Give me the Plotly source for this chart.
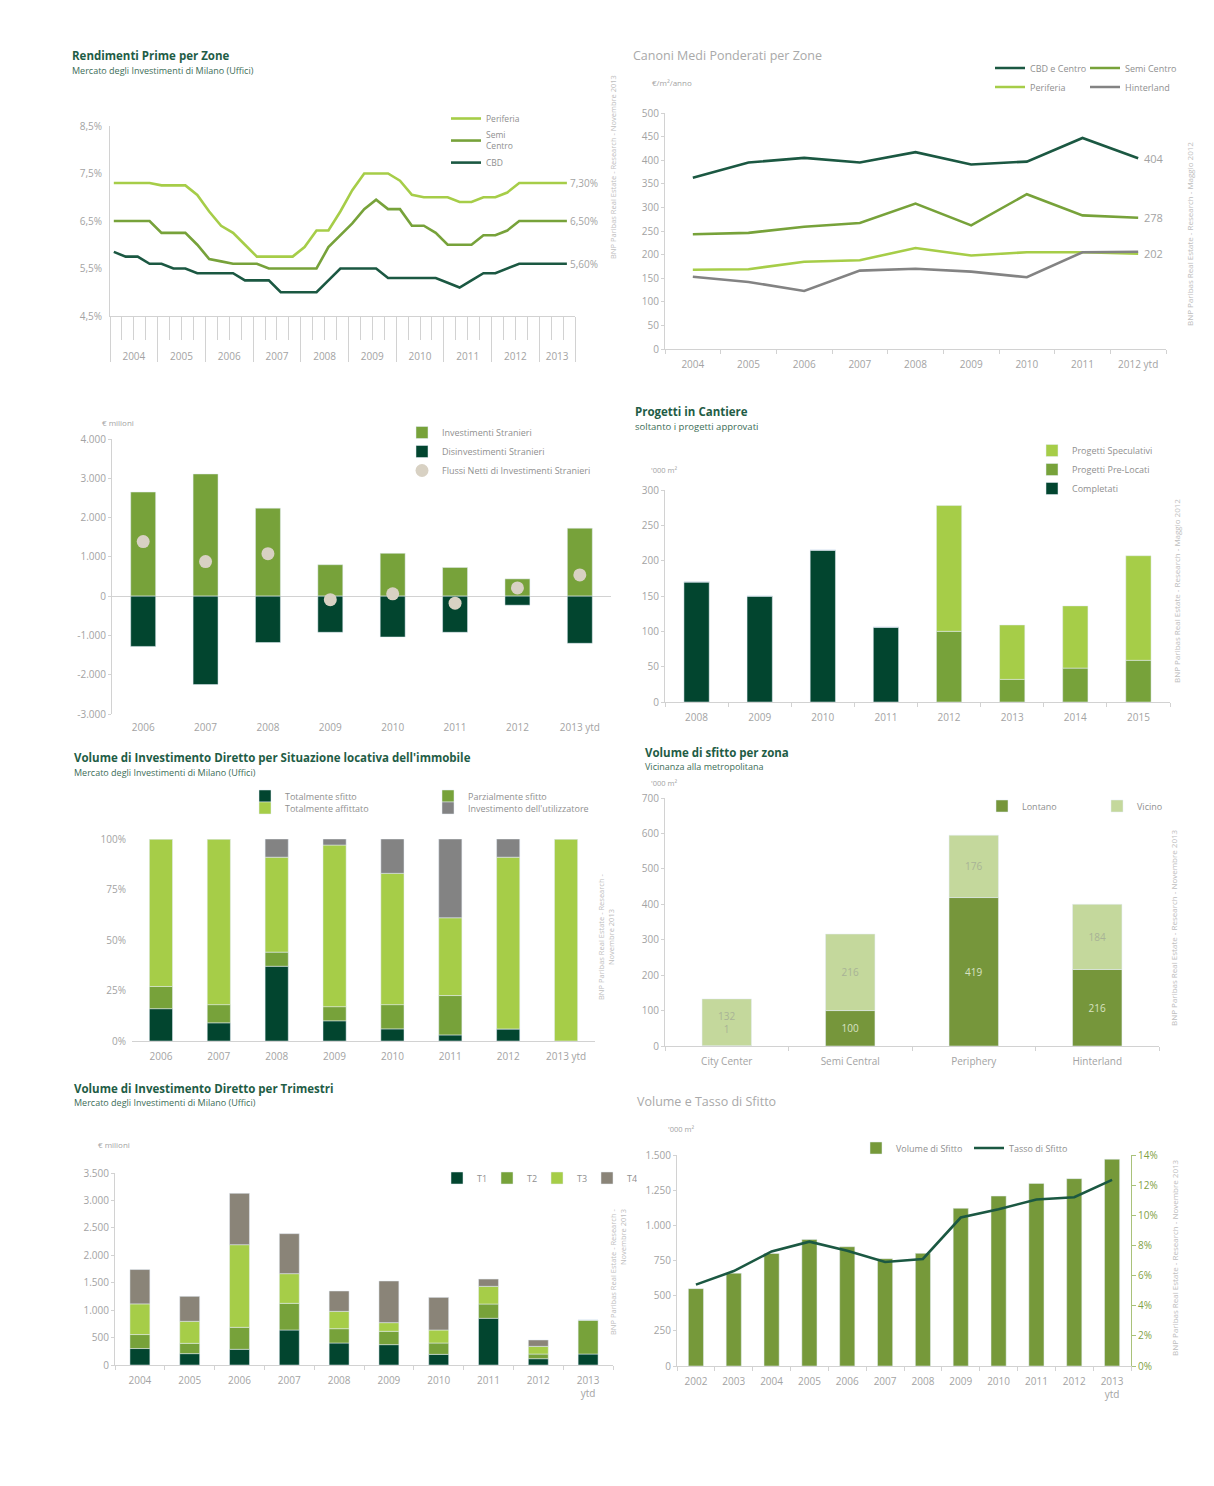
import plotly.graph_objects as go

W, H = 1214, 1486
OFF = 8  # default page margin of the browser
FW, FH = W - 2 * OFF, H - 2 * OFF

# ---------------- DATA ----------------
# Panel 1 - Rendimenti Prime per Zone (quarterly, 2004 T1 - 2013 T3)
p1_years = [2004, 2005, 2006, 2007, 2008, 2009, 2010, 2011, 2012, 2013]
p1_periferia = [7.3, 7.3, 7.3, 7.3, 7.25, 7.25, 7.25, 7.05, 6.7, 6.4, 6.25, 6.0, 5.75, 5.75, 5.75, 5.75,
                5.95, 6.3, 6.3, 6.7, 7.15, 7.5, 7.5, 7.5, 7.35, 7.05, 7.0, 7.0, 7.0, 6.9, 6.9, 7.0, 7.0,
                7.1, 7.3, 7.3, 7.3, 7.3, 7.3]
p1_semi = [6.5, 6.5, 6.5, 6.5, 6.25, 6.25, 6.25, 6.0, 5.7, 5.65, 5.6, 5.6, 5.6, 5.5, 5.5, 5.5, 5.5, 5.5,
           5.95, 6.2, 6.45, 6.75, 6.95, 6.75, 6.75, 6.4, 6.4, 6.25, 6.0, 6.0, 6.0, 6.2, 6.2, 6.3, 6.5,
           6.5, 6.5, 6.5, 6.5]
p1_cbd = [5.85, 5.75, 5.75, 5.6, 5.6, 5.5, 5.5, 5.4, 5.4, 5.4, 5.4, 5.25, 5.25, 5.25, 5.0, 5.0, 5.0, 5.0,
          5.25, 5.5, 5.5, 5.5, 5.5, 5.3, 5.3, 5.3, 5.3, 5.3, 5.2, 5.1, 5.25, 5.4, 5.4, 5.5, 5.6, 5.6,
          5.6, 5.6, 5.6]
p1_yticks = [4.5, 5.5, 6.5, 7.5, 8.5]

# Panel 2 - Canoni Medi Ponderati per Zone
p2_years = ["2004", "2005", "2006", "2007", "2008", "2009", "2010", "2011", "2012 ytd"]
p2_cbd = [363, 395, 405, 395, 417, 391, 397, 447, 404]
p2_semi = [243, 246, 259, 267, 308, 262, 328, 283, 278]
p2_periferia = [168, 169, 185, 188, 214, 198, 205, 205, 202]
p2_hinterland = [153, 142, 123, 166, 170, 164, 152, 205, 206]

# Panel 3 - Investimenti stranieri
p3_years = ["2006", "2007", "2008", "2009", "2010", "2011", "2012", "2013 ytd"]
p3_invest = [2650, 3110, 2240, 800, 1090, 730, 440, 1730]
p3_disinv = [-1280, -2250, -1180, -920, -1040, -920, -230, -1200]
p3_netti = [1390, 880, 1080, -90, 60, -180, 210, 540]
p3_yticks = [4000, 3000, 2000, 1000, 0, -1000, -2000, -3000]

# Panel 4 - Progetti in Cantiere
p4_years = ["2008", "2009", "2010", "2011", "2012", "2013", "2014", "2015"]
p4_completati = [170, 150, 215, 106, 0, 0, 0, 0]
p4_prelocati = [0, 0, 0, 0, 100, 32, 48, 59]
p4_speculativi = [0, 0, 0, 0, 178, 77, 88, 148]

# Panel 5 - Situazione locativa (%)
p5_years = ["2006", "2007", "2008", "2009", "2010", "2011", "2012", "2013 ytd"]
p5_tot_sfitto = [16, 9, 37, 10, 6, 3, 6, 0]
p5_parz_sfitto = [11, 9, 7, 7, 12, 19.5, 0, 0]
p5_affittato = [73, 82, 47, 80, 65, 38.5, 85, 100]
p5_utilizzatore = [0, 0, 9, 3, 17, 39, 9, 0]
p5_yticks = [0, 25, 50, 75, 100]

# Panel 6 - Volume di sfitto per zona
p6_zones = ["City Center", "Semi Central", "Periphery", "Hinterland"]
p6_lontano = [1, 100, 419, 216]
p6_vicino = [132, 216, 176, 184]

# Panel 7 - Volume per trimestri
p7_years = ["2004", "2005", "2006", "2007", "2008", "2009", "2010", "2011", "2012", "2013<br>ytd"]
p7_t1 = [300, 207, 286, 638, 401, 371, 194, 851, 115, 200]
p7_t2 = [255, 188, 401, 486, 261, 243, 207, 261, 85, 620]
p7_t3 = [559, 401, 1506, 541, 316, 158, 237, 322, 140, 0]
p7_t4 = [626, 456, 936, 729, 371, 759, 595, 133, 116, 0]

# Panel 8 - Volume e Tasso di Sfitto
p8_years = ["2002", "2003", "2004", "2005", "2006", "2007", "2008", "2009", "2010", "2011", "2012",
            "2013<br>ytd"]
p8_volume = [550, 660, 800, 900, 848, 763, 801, 1121, 1208, 1298, 1332, 1470]
p8_tasso = [5.4, 6.3, 7.6, 8.25, 7.65, 6.9, 7.1, 9.85, 10.4, 11.05, 11.2, 12.35]

# ---------------- STYLE ----------------
FONT = "Open Sans"
DK = "#02452f"
DKL = "#1b5842"
MG = "#77a23a"
LG = "#a6cd48"
GR = "#838383"
GRB = "#8a8478"
DOT = "#d8d1c3"
TICK = "#a3a3a3"
AX = "#d2d2d2"
TITLE = "#1f5d46"
SUB = "#3d6d57"
SRC = "#bdbdbd"
CLEAR = "rgba(0,0,0,0)"


def px(x):
    return (x - OFF) / FW


def py(y):
    return 1 - (y - OFF) / FH


def xd(a, b):
    return [px(a), px(b)]


def yd(top, bot):
    return [py(bot), py(top)]


tickfont = dict(family=FONT, size=10, color=TICK)


def cat_x(dom, anchor, n, line=True, ticks="outside"):
    return dict(domain=xd(*dom), anchor=anchor, type="category", range=[-0.5, n - 0.5], showline=line,
                linecolor=AX, ticks=ticks, tickson="boundaries", ticklen=4, tickcolor=AX,
                tickfont=tickfont, ticklabelstandoff=6, showgrid=False, zeroline=False, fixedrange=True,
                automargin=False)


def val_y(dom, anchor, rng, line=True, **kw):
    d = dict(domain=yd(*dom), anchor=anchor, range=rng, showline=line, linecolor=AX,
             ticks="outside", ticklen=3, tickcolor=AX if line else CLEAR, tickfont=tickfont,
             showgrid=False, zeroline=False, fixedrange=True, automargin=False)
    d.update(kw)
    return d


fig = go.Figure()

# ---------------- PANEL 1 ----------------
p1_x = [p1_years[0] + 0.08 + 0.25 * i for i in range(len(p1_periferia))]
for name, ys, col in [("Periferia", p1_periferia, LG), ("Semi<br>Centro", p1_semi, MG), ("CBD", p1_cbd, DKL)]:
    fig.add_trace(go.Scatter(x=p1_x, y=ys, mode="lines", name=name, line=dict(color=col, width=2.6),
                             xaxis="x", yaxis="y", legend="legend", hoverinfo="skip"))
p1_end = p1_years[-1] + 0.75
p1_mid = [y + 0.5 for y in p1_years[:-1]] + [p1_years[-1] + 0.375]
fig.add_trace(go.Scatter(x=p1_mid, y=[None] * len(p1_mid), mode="lines", showlegend=False,
                         xaxis="x9", yaxis="y", hoverinfo="skip"))

# ---------------- PANEL 2 ----------------
for name, ys, col, lg in [("CBD e Centro", p2_cbd, DKL, "legend2"), ("Semi Centro", p2_semi, MG, "legend2"),
                          ("Periferia", p2_periferia, LG, "legend3"), ("Hinterland", p2_hinterland, GR, "legend3")]:
    fig.add_trace(go.Scatter(x=p2_years, y=ys, mode="lines", name=name, line=dict(color=col, width=2.6),
                             xaxis="x2", yaxis="y2", legend=lg, hoverinfo="skip"))

# ---------------- PANEL 3 ----------------
fig.add_trace(go.Bar(x=p3_years, y=p3_invest, name="Investimenti Stranieri", marker_color=MG,
                     xaxis="x3", yaxis="y3", legend="legend4"))
fig.add_trace(go.Bar(x=p3_years, y=p3_disinv, name="Disinvestimenti Stranieri", marker_color=DK,
                     xaxis="x3", yaxis="y3", legend="legend4"))
fig.add_trace(go.Scatter(x=p3_years, y=p3_netti, mode="markers", name="Flussi Netti di Investimenti Stranieri",
                         marker=dict(color=DOT, size=13), xaxis="x3", yaxis="y3", legend="legend4"))

# ---------------- PANEL 4 ----------------
for name, ys, col in [("Completati", p4_completati, DK), ("Progetti Pre-Locati", p4_prelocati, MG),
                      ("Progetti Speculativi", p4_speculativi, LG)]:
    fig.add_trace(go.Bar(x=p4_years, y=ys, name=name, marker_color=col, xaxis="x4", yaxis="y4",
                         legend="legend5"))

# ---------------- PANEL 5 ----------------
for name, ys, col, lg in [("Totalmente sfitto", p5_tot_sfitto, DK, "legend6"),
                          ("Parzialmente sfitto", p5_parz_sfitto, MG, "legend6"),
                          ("Totalmente affittato", p5_affittato, LG, "legend7"),
                          ("Investimento dell'utilizzatore", p5_utilizzatore, GR, "legend7")]:
    fig.add_trace(go.Bar(x=p5_years, y=ys, name=name, marker_color=col, xaxis="x5", yaxis="y5",
                         legend=lg))

# ---------------- PANEL 6 ----------------
p6_vicino_txt = [f"{v}<br>{l}" if l < 10 else f"{v}" for v, l in zip(p6_vicino, p6_lontano)]
p6_lontano_txt = [f"{l}" if l >= 10 else "" for l in p6_lontano]
fig.add_trace(go.Bar(x=p6_zones, y=p6_lontano, name="Lontano", marker_color="#76963b", text=p6_lontano_txt,
                     textposition="inside", insidetextanchor="middle",
                     textfont=dict(family=FONT, size=10, color="#d9e3c4"),
                     xaxis="x6", yaxis="y6", legend="legend8"))
fig.add_trace(go.Bar(x=p6_zones, y=p6_vicino, name="Vicino", marker_color="#c4d89c", text=p6_vicino_txt,
                     textposition="inside", insidetextanchor="middle",
                     textfont=dict(family=FONT, size=10, color="#a8b396"),
                     xaxis="x6", yaxis="y6", legend="legend8"))

# ---------------- PANEL 7 ----------------
for name, ys, col in [("T1", p7_t1, DK), ("T2", p7_t2, MG), ("T3", p7_t3, LG), ("T4", p7_t4, GRB)]:
    fig.add_trace(go.Bar(x=p7_years, y=ys, name=name, marker_color=col, xaxis="x7", yaxis="y7",
                         legend="legend9"))

# ---------------- PANEL 8 ----------------
fig.add_trace(go.Bar(x=p8_years, y=p8_volume, name="Volume di Sfitto", marker_color="#76993a",
                     xaxis="x8", yaxis="y8", legend="legend10"))
fig.add_trace(go.Scatter(x=p8_years, y=p8_tasso, mode="lines", name="Tasso di Sfitto",
                         line=dict(color=DKL, width=2.6), xaxis="x8", yaxis="y10", legend="legend10"))

# ---------------- AXES ----------------
lay = dict(
    xaxis=dict(domain=xd(110, 575), anchor="y", range=[p1_years[0], p1_end], tickmode="array",
               tickvals=p1_years + [p1_end], showticklabels=False, ticks="outside", ticklen=45,
               tickcolor=AX, showline=True, linecolor=AX, showgrid=False, zeroline=False,
               minor=dict(ticks="outside", ticklen=23, tick0=p1_years[0], dtick=0.25, tickcolor=AX),
               fixedrange=True, automargin=False),
    xaxis9=dict(overlaying="x", anchor="y", range=[p1_years[0], p1_end], tickmode="array",
                tickvals=p1_mid, ticktext=[str(y) for y in p1_years], ticks="outside", ticklen=31,
                tickcolor=CLEAR, showline=False, showgrid=False, zeroline=False,
                tickfont=tickfont, fixedrange=True, automargin=False),
    yaxis=val_y((126, 316), "x", [4.5, 8.5], tickmode="array", tickvals=p1_yticks,
                ticktext=[f"{v:.1f}%".replace(".", ",") for v in p1_yticks], tickcolor=CLEAR, ticklen=5),
    xaxis2=cat_x((665, 1166), "y2", len(p2_years)),
    yaxis2=val_y((113, 349), "x2", [0, 500], dtick=50),
    xaxis3=cat_x((112, 611), "y3", len(p3_years), line=False, ticks=""),
    yaxis3=val_y((439, 714), "x3", [-3000, 4000], tickmode="array", tickvals=p3_yticks,
                 ticktext=[f"{v:,}".replace(",", ".") for v in p3_yticks], zeroline=True,
                 zerolinecolor=AX, zerolinewidth=1),
    xaxis4=cat_x((665, 1170), "y4", len(p4_years)),
    yaxis4=val_y((490, 702), "x4", [0, 300], dtick=50),
    xaxis5=cat_x((132, 595), "y5", len(p5_years), ticks=""),
    yaxis5=val_y((839, 1041), "x5", [0, 100], line=False, tickmode="array", tickvals=p5_yticks,
                 ticktext=[f"{v}%" for v in p5_yticks]),
    xaxis6=cat_x((665, 1159), "y6", len(p6_zones)),
    yaxis6=val_y((798, 1046), "x6", [0, 700], dtick=100),
    xaxis7=cat_x((115, 613), "y7", len(p7_years)),
    yaxis7=val_y((1173, 1365), "x7", [0, 3500], dtick=500, tickformat=",d"),
    xaxis8=cat_x((677, 1131), "y8", len(p8_years)),
    yaxis8=val_y((1155, 1366), "x8", [0, 1500], dtick=250, tickformat=",d"),
    yaxis10=dict(overlaying="y8", anchor="x8", side="right", range=[0, 14], dtick=2, ticksuffix="%",
                 showline=True, linecolor="#a9c27a", ticks="outside", ticklen=4, tickcolor="#a9c27a",
                 tickfont=dict(family=FONT, size=10, color="#7f9f45"), showgrid=False, zeroline=False,
                 fixedrange=True, automargin=False),
)

# ---------------- LEGENDS ----------------
lf = dict(family=FONT, size=9, color="#8f8f8f")


def legend(x, y, h=False, yanchor="top", **kw):
    d = dict(x=px(x), y=py(y), xanchor="left", yanchor=yanchor, bgcolor=CLEAR,
             font=lf, orientation="h" if h else "v", itemwidth=30, tracegroupgap=0,
             itemclick=False, itemdoubleclick=False)
    d.update(kw)
    return d


lay["legend"] = legend(446, 104, font=dict(family=FONT, size=8.5, color="#8f8f8f"))
lay["legend2"] = legend(990, 68, h=True, yanchor="middle", entrywidth=50)
lay["legend3"] = legend(990, 87, h=True, yanchor="middle", entrywidth=50)
lay["legend4"] = legend(402, 418)
lay["legend5"] = legend(1032, 436, traceorder="reversed")
lay["legend6"] = legend(245, 796, h=True, yanchor="middle", entrywidth=138)
lay["legend7"] = legend(245, 808, h=True, yanchor="middle", entrywidth=138)
lay["legend8"] = legend(982, 806, h=True, yanchor="middle", entrywidth=70)
lay["legend9"] = legend(437, 1178, h=True, yanchor="middle", entrywidth=5)
lay["legend10"] = legend(856, 1148, h=True, yanchor="middle", entrywidth=68)

# ---------------- ANNOTATIONS ----------------
ann = []


def text(x, y, t, size=9, color=TICK, bold=False, xanchor="left", angle=0, align="left"):
    ann.append(dict(x=px(x), y=py(y), xref="paper", yref="paper", text=f"<b>{t}</b>" if bold else t,
                    showarrow=False, xanchor=xanchor, yanchor="middle", textangle=angle, align=align,
                    font=dict(family=FONT, size=size, color=color)))


# titles
text(70, 55, "Rendimenti Prime per Zone", 11.5, TITLE, True)
text(70, 70, "Mercato degli Investimenti di Milano (Uffici)", 9, SUB)
text(631, 55, "Canoni Medi Ponderati per Zone", 12.5, "#a9a9a9")
text(633, 411, "Progetti in Cantiere", 11.5, TITLE, True)
text(633, 426, "soltanto i progetti approvati", 9.5, SUB)
text(72, 757, "Volume di Investimento Diretto per Situazione locativa dell'immobile", 11.5, TITLE, True)
text(72, 772, "Mercato degli Investimenti di Milano (Uffici)", 9, SUB)
text(643, 752, "Volume di sfitto per zona", 11.5, TITLE, True)
text(643, 766, "Vicinanza alla metropolitana", 9, SUB)
text(72, 1088, "Volume di Investimento Diretto per Trimestri", 11.5, TITLE, True)
text(72, 1102, "Mercato degli Investimenti di Milano (Uffici)", 9, SUB)
text(635, 1101, "Volume e Tasso di Sfitto", 12.5, "#a9a9a9")

# axis units
text(650, 83, "€/m²/anno", 8)
text(100, 422, "€ milioni", 8)
text(649, 470, "'000 m²", 7.5)
text(649, 783, "'000 m²", 7.5)
text(96, 1144, "€ milioni", 8)
text(666, 1129, "'000 m²", 7.5)

# sources
text(613, 167, "BNP Paribas Real Estate - Research - Novembre 2013", 7.5, SRC, xanchor="center", angle=-90)
text(1189, 234, "BNP Paribas Real Estate - Research - Maggio 2012", 8, SRC, xanchor="center", angle=-90)
text(1176, 591, "BNP Paribas Real Estate - Research - Maggio 2012", 8, SRC, xanchor="center", angle=-90)
text(606, 937, "BNP Paribas Real Estate - Research -<br>Novembre 2013", 7.5, SRC, xanchor="center",
     angle=-90, align="center")
text(1173, 928, "BNP Paribas Real Estate - Research - Novembre 2013", 8, SRC, xanchor="center", angle=-90)
text(618, 1272, "BNP Paribas Real Estate - Research -<br>Novembre 2013", 7.5, SRC, xanchor="center",
     angle=-90, align="right")
text(1174, 1258, "BNP Paribas Real Estate - Research - Novembre 2013", 8, SRC, xanchor="center", angle=-90)

# end labels P1
for ys in [p1_periferia, p1_semi, p1_cbd]:
    ann.append(dict(x=p1_x[-1], y=ys[-1], xref="x", yref="y", text=f"{ys[-1]:.2f}%".replace(".", ","),
                    showarrow=False, xanchor="left", yanchor="middle", xshift=1,
                    font=dict(family=FONT, size=10, color=TICK)))
# end labels P2
for ys in [p2_cbd, p2_semi, p2_periferia]:
    ann.append(dict(x=p2_years[-1], y=ys[-1], xref="x2", yref="y2", text=f"{ys[-1]}",
                    showarrow=False, xanchor="left", yanchor="middle", xshift=4,
                    font=dict(family=FONT, size=11, color=TICK)))

fig.update_layout(
    width=FW, height=FH, margin=dict(l=0, r=0, t=0, b=0, autoexpand=False),
    paper_bgcolor="white", plot_bgcolor="white",
    barmode="relative", bargap=0.6, separators=",.", showlegend=True, hovermode=False,
    font=dict(family=FONT, size=10, color=TICK), annotations=ann, **lay,
)

fig.write_html("out.html", config={"displayModeBar": False, "staticPlot": True})
